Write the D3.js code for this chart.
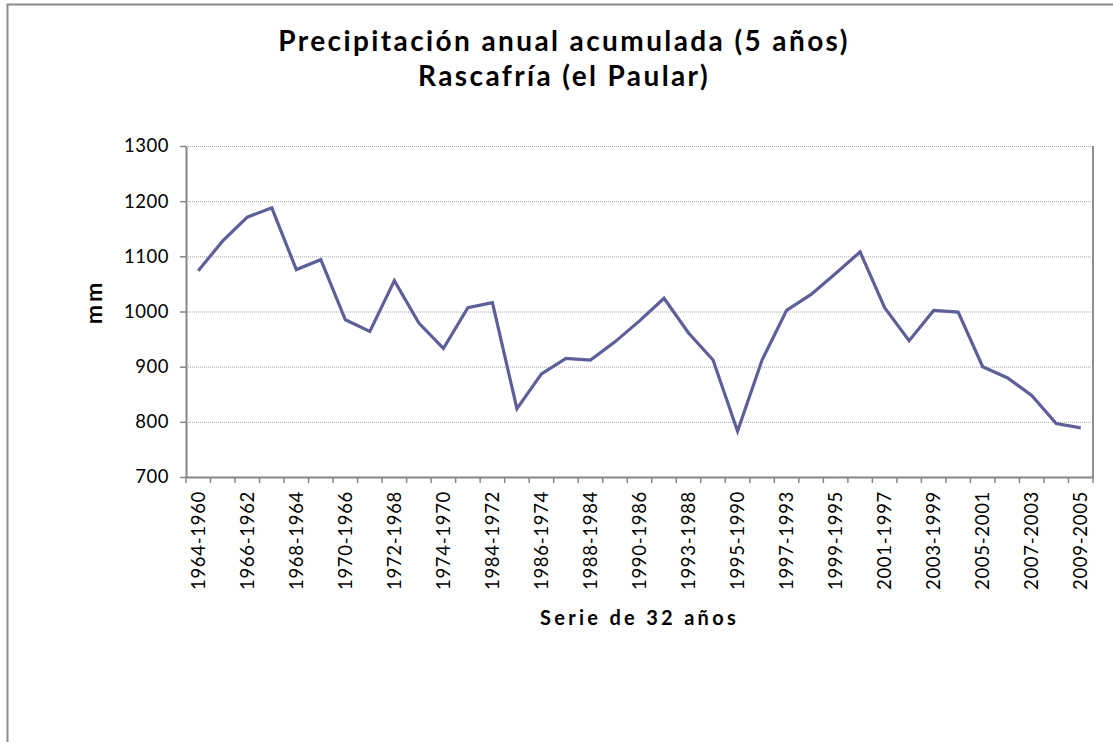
<!DOCTYPE html>
<html>
<head>
<meta charset="utf-8">
<script src="https://cdn.jsdelivr.net/npm/d3@7"></script>
<style>
  body { margin: 0; background: #fff; }
  text { font-family: Lato, "Open Sans", sans-serif; fill: #000; }
</style>
</head>
<body>
<svg width="1113" height="742"></svg>
<script>
const CATEGORIES = [
    '1964-1960', '1965-1961', '1966-1962', '1967-1963', '1968-1964', '1969-1965',
    '1970-1966', '1971-1967', '1972-1968', '1973-1969', '1974-1970', '1983-1971',
    '1984-1972', '1985-1973', '1986-1974', '1987-1983', '1988-1984', '1989-1985',
    '1990-1986', '1992-1987', '1993-1988', '1994-1989', '1995-1990', '1996-1992',
    '1997-1993', '1998-1994', '1999-1995', '2000-1996', '2001-1997', '2002-1998',
    '2003-1999', '2004-2000', '2005-2001', '2006-2002', '2007-2003', '2008-2004',
    '2009-2005'
];
const VALUES = [
    1074, 1128, 1171, 1188, 1076, 1094, 985, 964, 1056, 979, 933, 1007,
    1016, 824, 887, 915, 912, 945, 983, 1024, 961, 912, 783, 912,
    1002, 1031, 1069, 1108, 1007, 947, 1002, 999, 900, 880, 848, 797,
    789
];
const Y_TICKS = [700, 800, 900, 1000, 1100, 1200, 1300];
// only every other category gets a label
const X_LABELS = CATEGORIES.filter((c, i) => i % 2 === 0);

const plotLeft = 186, plotRight = 1093, plotTop = 146, plotBottom = 477;

const svg = d3.select('svg');

// outer chart border (only top and left are visible in the frame)
svg.append('rect')
    .attr('x', 7.5).attr('y', 4.5)
    .attr('width', 1200).attr('height', 800)
    .attr('fill', '#fff')
    .attr('stroke', '#8a8a8a')
    .attr('stroke-width', 2);

const xScale = d3.scaleBand().domain(CATEGORIES).range([plotLeft, plotRight]).padding(0);
const yScale = d3.scaleLinear().domain([700, 1300]).range([plotBottom, plotTop]);

// gridlines
svg.append('g')
    .selectAll('line')
    .data(Y_TICKS.filter(v => v > 700))
    .enter()
    .append('line')
    .attr('x1', plotLeft).attr('x2', plotRight)
    .attr('y1', d => yScale(d) + 0.5).attr('y2', d => yScale(d) + 0.5)
    .attr('stroke', '#a6a6a6')
    .attr('stroke-width', 1)
    .attr('stroke-dasharray', '1,1');

// right border of plot area
svg.append('line')
    .attr('x1', plotRight).attr('x2', plotRight)
    .attr('y1', plotTop).attr('y2', plotBottom)
    .attr('stroke', '#8f8f8f').attr('stroke-width', 2);

// y axis
const yAxis = svg.append('g')
    .attr('transform', `translate(${plotLeft},0)`)
    .call(d3.axisLeft(yScale).tickValues(Y_TICKS).tickFormat(d3.format('d'))
        .tickSize(6).tickPadding(11).tickSizeOuter(0));
yAxis.select('.domain').attr('stroke', '#868686').attr('stroke-width', 2);
yAxis.selectAll('.tick line').attr('stroke', '#868686').attr('stroke-width', 1.5);
yAxis.selectAll('.tick text')
    .style('font-size', '18.5px')
    .style('letter-spacing', '0.5px')
    .attr('fill', '#000');

// x axis: labels from the axis, ticks between categories (excel style)
const xAxis = svg.append('g')
    .attr('transform', `translate(0,${plotBottom})`)
    .call(d3.axisBottom(xScale).tickValues(X_LABELS).tickSize(0).tickSizeOuter(0));
xAxis.select('.domain').attr('stroke', '#868686').attr('stroke-width', 2);
xAxis.selectAll('.tick text')
    .attr('transform', 'rotate(-90)')
    .attr('text-anchor', 'end')
    .attr('x', -14)
    .attr('y', 0)
    .attr('dy', '0.35em')
    .style('font-size', '18.5px')
    .style('letter-spacing', '0.7px')
    .attr('fill', '#000');

svg.append('g')
    .selectAll('line')
    .data(CATEGORIES.map(c => xScale(c)).concat([plotRight]))
    .enter()
    .append('line')
    .attr('x1', d => d).attr('x2', d => d)
    .attr('y1', plotBottom).attr('y2', plotBottom + 6)
    .attr('stroke', '#868686')
    .attr('stroke-width', 1.5);

// series line
const line = d3.line()
    .x((d, i) => xScale(CATEGORIES[i]) + xScale.bandwidth() / 2)
    .y(d => yScale(d));

svg.append('path')
    .datum(VALUES)
    .attr('d', line)
    .attr('fill', 'none')
    .attr('stroke', '#5e5e99')
    .attr('stroke-width', 3.2)
    .attr('stroke-linejoin', 'miter');

// titles
const title = svg.append('text')
    .attr('text-anchor', 'middle')
    .style('font-size', '28px')
    .style('font-weight', 'bold')
    .style('letter-spacing', '2.4px');
title.append('tspan').attr('x', 564).attr('y', 51).text('Precipitación anual acumulada (5 años)');
title.append('tspan').attr('x', 564).attr('y', 86).text('Rascafría (el Paular)');

svg.append('text')
    .attr('x', (plotLeft + plotRight) / 2).attr('y', 625)
    .attr('text-anchor', 'middle')
    .style('font-size', '20px')
    .style('font-weight', 'bold')
    .style('letter-spacing', '3.3px')
    .text('Serie de 32 años');

svg.append('text')
    .attr('transform', 'translate(102,302) rotate(-90)')
    .attr('text-anchor', 'middle')
    .style('font-size', '23px')
    .style('font-weight', 'bold')
    .style('letter-spacing', '3px')
    .text('mm');
</script>
</body>
</html>
